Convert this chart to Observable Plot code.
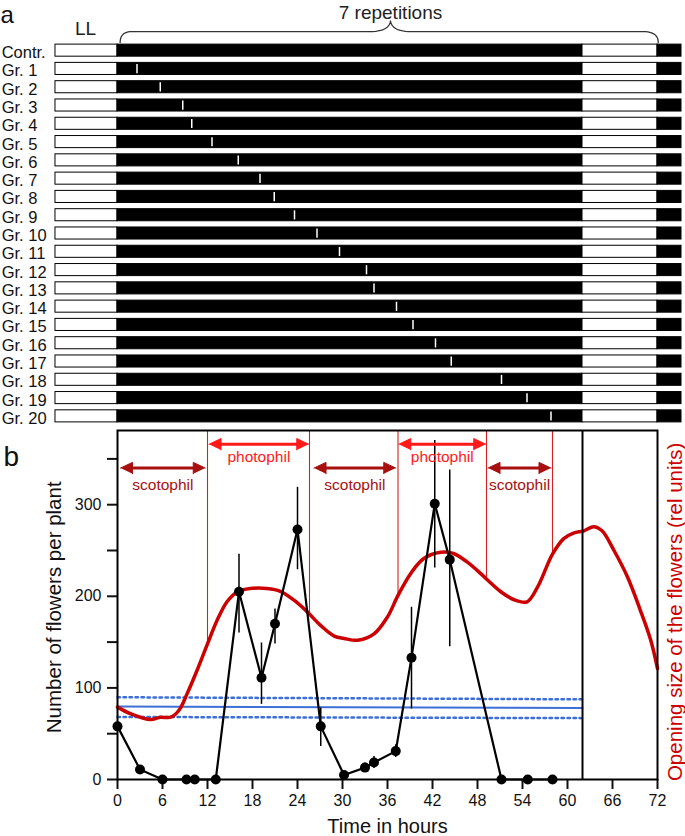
<!DOCTYPE html>
<html><head><meta charset="utf-8">
<script src="https://cdn.jsdelivr.net/npm/d3@7"></script>
<script src="https://cdn.jsdelivr.net/npm/@observablehq/plot@0.6"></script>
<style>
body{margin:0;background:#fff;font-family:"Liberation Sans",Arial,sans-serif;}
#chart svg{display:block;}
#bottom{margin-top:-11px;position:relative;}
#bottom [aria-label^="y-axis"] line, #bottom [aria-label^="y-axis"] path,
#bottom [aria-label^="x-axis"] line, #bottom [aria-label^="x-axis"] path {stroke-width:2px;}
</style></head><body><div id="chart"><div id="top"></div><div id="bottom"></div></div>
<script>
// ---------- panel a data ----------
const groups = ["Contr.","Gr. 1","Gr. 2","Gr. 3","Gr. 4","Gr. 5","Gr. 6","Gr. 7","Gr. 8","Gr. 9","Gr. 10",
  "Gr. 11","Gr. 12","Gr. 13","Gr. 14","Gr. 15","Gr. 16","Gr. 17","Gr. 18","Gr. 19","Gr. 20"];
// sampling time marker of Gr. 1 ... Gr. 20 (hours)
const sampleTimes = [2.6,5.7,8.7,9.9,12.6,16.1,19.0,20.9,23.6,26.6,29.6,33.2,34.2,37.2,39.4,42.4,44.5,51.2,54.6,57.8];
// light regime phases (hours)
const phaseStart = [-8.27, 0, 62, 72];
const phaseEnd   = [0, 62, 72, 75.2];
const phaseKind  = ["L", "D", "L", "D"];
const braceStart = 0, braceEnd = 72;

// ---------- panel b data ----------
const flowerT = [0,3,6,9.2,10.3,13.1,16.2,19.2,21,24,27.1,30.2,33,34.2,37.1,39.2,42.3,44.3,51.2,54.7,58];
const flowerV = [58,11,0,0,0,0,205,111,170,273,58,5,13,18.5,31,133,301,240,0,0,0];
const errT    = [16.2,19.2,21,24,27.1,33,34.2,37.1,39.2,42.3,44.3];
const errLow  = [160,82,148,229,36,8,12,24,77,231,145];
const errHigh = [246,149,186,319,78,18,25,38,188,370,338];

const openT = [0,1.7,4.4,5.7,7.1,8.2,9.3,10.6,12,13.3,14.6,16,17.7,19.9,21.7,23.5,25.3,27.1,28.9,30.2,32,34.2,36,37.4,39.1,40.8,43.1,44.8,46.6,48.4,49.3,51.1,52.8,54.6,56,58,59.5,60.8,62.2,63.5,64.6,66.2,68,69.7,71.1,72];
const openV = [79,72,65.5,68,68,75.6,94,119,148,174,194,205,208.5,208.5,205.5,196,183,168,156.5,154,152,159,177.5,201,225,241,248,246.7,237.5,225,218,205,196.5,194,210,246,263,269,271.5,276,271.5,250,221,185,152,121];

const phaseLineT = [12,25.6,37.4,49.2,58];
const phaseLineV = [148,182,201,217,246];

const blueT   = [0,62];
const blueMid = [79.6,78];
const blueUp  = [89.8,87.5];
const blueLo  = [68.3,67];

const endOfRecording = 62;

const arrowKind  = ["scotophil","photophil","scotophil","photophil","scotophil"];
const arrowStart = [0.4,12.2,26.2,37.5,49.4];
const arrowEnd   = [11.7,25.5,37.1,49.1,57.8];

const yTicks = [0,50,100,150,200,250,300,350];
const xTicks = [0,6,12,18,24,30,36,42,48,54,60,66,72];

const FONT = '"Liberation Sans", Arial, sans-serif';

// ---------- panel a ----------
const rowData = groups.flatMap((g,i) => phaseStart.map((s,j) => ({row:i, x1:s, x2:phaseEnd[j], kind:phaseKind[j]})));
const tickData = sampleTimes.map((t,k) => ({row:k+1, t}));

// brace path (quadratic segments sampled through the scales)
function quad(p0,p1,p2,n=12){const out=[];for(let k=0;k<=n;k++){const u=k/n;out.push({x:(1-u)*(1-u)*p0[0]+2*(1-u)*u*p1[0]+u*u*p2[0], y:(1-u)*(1-u)*p0[1]+2*(1-u)*u*p1[1]+u*u*p2[1]});}return out;}
const bMid = (braceStart+braceEnd)/2 + 0.4;
const yl = -1.04, yb = -0.44, yt = -1.62;
const brace = [
  ...quad([braceStart+0.35,yb],[braceStart+0.35,yl],[braceStart+1.9,yl]),
  ...quad([bMid-2.8,yl],[bMid-0.2,yl],[bMid,yt]),
  ...quad([bMid,yt],[bMid+0.2,yl],[bMid+2.8,yl]),
  ...quad([braceEnd-1.9,yl],[braceEnd+0.1,yl],[braceEnd+0.1,yb])
];

const topPlot = Plot.plot({
  width:685, height:436, marginLeft:117, marginRight:28, marginTop:41, marginBottom:11,
  style:{fontFamily:FONT, background:"#fff"},
  x:{domain:[0,72], axis:null},
  y:{domain:[-0.5,20.5], reverse:true, axis:null},
  color:{domain:["L","D"], range:["#ffffff","#000000"]},
  marks:[
    Plot.rect(rowData,{x1:"x1", x2:"x2", y1:d=>d.row-0.33, y2:d=>d.row+0.33, fill:"kind", stroke:"#000", strokeWidth:1}),
    Plot.ruleX(tickData,{x:"t", y1:d=>d.row-0.24, y2:d=>d.row+0.26, stroke:"#fff", strokeWidth:1.5}),
    Plot.text(groups,{x:-15.45, y:(d,i)=>i+0.12, text:d=>d, textAnchor:"start", fontSize:16.5, fill:"#111"}),
    Plot.line(brace,{x:"x", y:"y", stroke:"#333", strokeWidth:1.3}),
    Plot.text(["7 repetitions"],{x:bMid, y:-2.06, text:d=>d, fontSize:19, fill:"#222"}),
    Plot.text(["LL"],{x:-4.27, y:-1.2, text:d=>d, fontSize:19, fill:"#222"}),
    Plot.text(["a"],{x:-15.6, y:-1.93, text:d=>d, fontSize:24, textAnchor:"start", fill:"#111"})
  ]
});
document.getElementById("top").appendChild(topPlot);

// ---------- panel b ----------
const flowers = flowerT.map((t,i)=>({t, v:flowerV[i]}));
const errs = errT.map((t,i)=>({t, lo:errLow[i], hi:errHigh[i]}));
const opening = openT.map((t,i)=>({t, v:openV[i]}));
const phaseLines = phaseLineT.map((t,i)=>({t, v:phaseLineV[i]}));
const blue = (arr)=>blueT.map((t,i)=>({t, v:arr[i]}));
const arrowY = {scotophil:340, photophil:366};
const labelY = {scotophil:321, photophil:352};
const arrowColor = {scotophil:"#a80f0f", photophil:"#ff1a1a"};
const arrows = arrowKind.map((k,i)=>({k, x1:arrowStart[i], x2:arrowEnd[i], y:arrowY[k]}));
const heads = arrows.flatMap((a,i)=>[
  {id:i+"L",k:a.k,x:a.x1,y:a.y},{id:i+"L",k:a.k,x:a.x1+1.6,y:a.y+6.2},{id:i+"L",k:a.k,x:a.x1+1.6,y:a.y-6.2},
  {id:i+"R",k:a.k,x:a.x2,y:a.y},{id:i+"R",k:a.k,x:a.x2-1.6,y:a.y+6.2},{id:i+"R",k:a.k,x:a.x2-1.6,y:a.y-6.2}
]);
const RED = "#cc0000";

const bottomPlot = Plot.plot({
  width:685, height:411, marginLeft:117, marginRight:28, marginTop:5, marginBottom:57,
  style:{fontFamily:FONT, fontSize:"16px", background:"transparent", color:"#111"},
  x:{domain:[0,72], ticks:xTicks, tickSize:10, tickPadding:5, label:null},
  y:{domain:[0,381], ticks:yTicks, tickFormat:d=>d%100===0?d:"", tickSize:10, tickPadding:6, label:null},
  marks:[
    Plot.line(blue(blueUp),{x:"t", y:"v", stroke:"#3d6fd6", strokeWidth:2.5, strokeDasharray:"2.5,3.5"}),
    Plot.line(blue(blueLo),{x:"t", y:"v", stroke:"#3d6fd6", strokeWidth:2.5, strokeDasharray:"2.5,3.5"}),
    Plot.line(blue(blueMid),{x:"t", y:"v", stroke:"#3d6fd6", strokeWidth:2}),
    Plot.ruleX(phaseLines,{x:"t", y1:"v", y2:381, stroke:"#d42020", strokeWidth:1.1}),
    Plot.line(opening,{x:"t", y:"v", stroke:RED, strokeWidth:3.5, curve:"catmull-rom"}),
    Plot.ruleX(errs,{x:"t", y1:"lo", y2:"hi", stroke:"#000", strokeWidth:1.5}),
    Plot.line(flowers,{x:"t", y:"v", stroke:"#000", strokeWidth:2.2}),
    Plot.dot(flowers,{x:"t", y:"v", r:5, fill:"#000"}),
    Plot.ruleX([endOfRecording],{stroke:"#000", strokeWidth:2}),
    Plot.link(arrows,{x1:d=>d.x1+1.2, x2:d=>d.x2-1.2, y1:"y", y2:"y", stroke:d=>arrowColor[d.k], strokeWidth:3}),
    Plot.line(heads,{x:"x", y:"y", z:"id", fill:d=>arrowColor[d.k], stroke:d=>arrowColor[d.k], strokeWidth:1}),
    Plot.text(arrows,{x:d=>(d.x1+d.x2)/2, y:d=>labelY[d.k], text:"k", fill:d=>arrowColor[d.k], fontSize:15.5}),
    Plot.frame({stroke:"#000", strokeWidth:2}),
    Plot.text(["Number of flowers per plant"],{x:-8.4, y:188, text:d=>d, rotate:-90, fontSize:20.5, fill:"#111"}),
    Plot.text(["Opening size of the flowers (rel units)"],{x:74.4, y:183, text:d=>d, rotate:-90, fontSize:20.5, fill:RED}),
    Plot.text(["Time in hours"],{x:36, y:0, dy:47, text:d=>d, fontSize:20, fill:"#111"}),
    Plot.text(["b"],{x:-15.2, y:352, text:d=>d, fontSize:28, textAnchor:"start", fill:"#111"})
  ]
});
document.getElementById("bottom").appendChild(bottomPlot);
</script></body></html>
